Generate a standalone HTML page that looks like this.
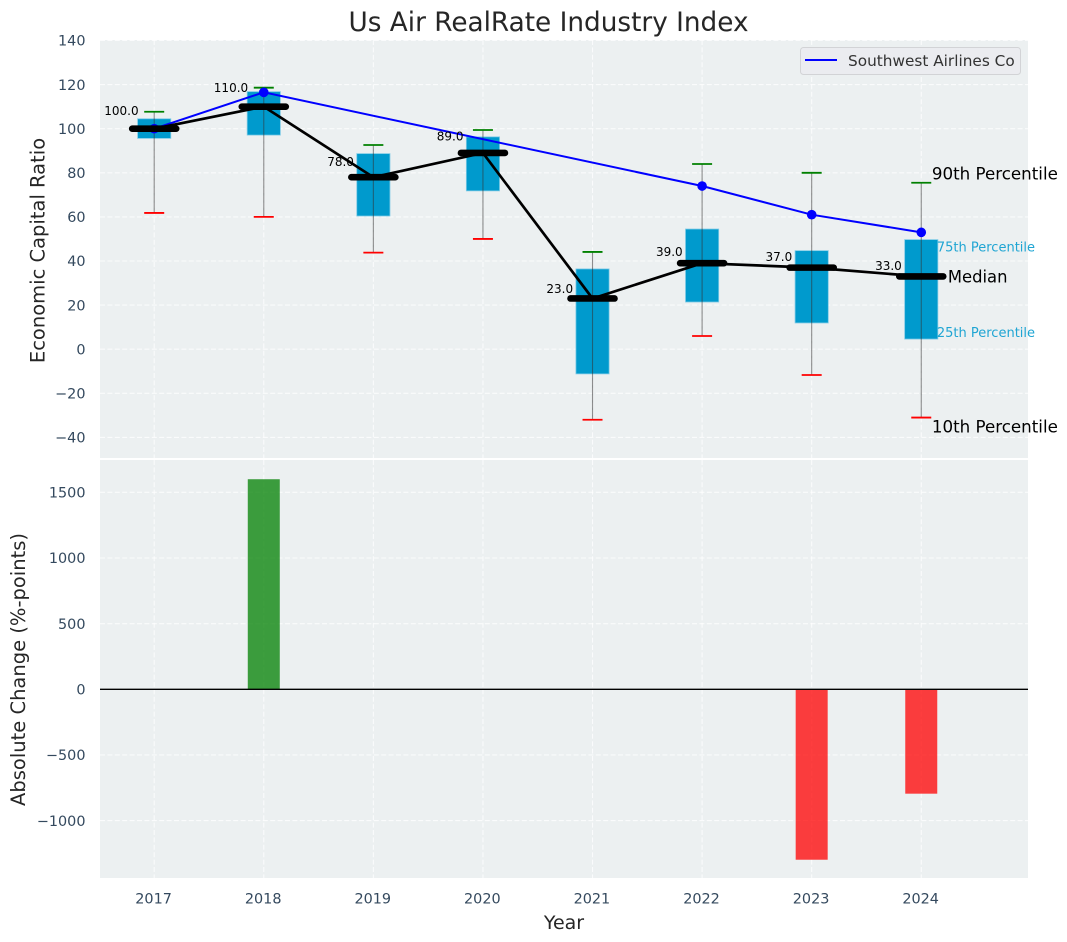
<!DOCTYPE html>
<html lang="en">
<head>
<meta charset="utf-8">
<title>Us Air RealRate Industry Index</title>
<style>
html,body{margin:0;padding:0;background:#fff;width:1067px;height:942px;overflow:hidden}
svg{display:block}
text{font-family:"DejaVu Sans","Liberation Sans",sans-serif}
</style>
</head>
<body>
<svg id="chart" xmlns="http://www.w3.org/2000/svg" width="1067" height="942" viewBox="0 0 1067 942">
  <text x="548.5" y="31" font-size="26.3" text-anchor="middle" fill="#262626">Us Air RealRate Industry Index</text>
  <rect x="100" y="40" width="928" height="418" fill="#ECF0F1"/>
  <rect x="100" y="460" width="928" height="418" fill="#ECF0F1"/>
  <g id="top-grid"></g>
  <g id="bottom-grid"></g>
  <g id="marks"></g>
  <g id="labels"></g>
  <text transform="translate(44.5,250.5) rotate(-90)" font-size="19.5" text-anchor="middle" fill="#262626">Economic Capital Ratio</text>
  <text transform="translate(25,669.5) rotate(-90)" font-size="19.5" text-anchor="middle" fill="#262626">Absolute Change (%-points)</text>
  <text x="564" y="929" font-size="19" text-anchor="middle" fill="#262626">Year</text>
  <g>
    <rect x="800.5" y="47.5" width="220" height="27" rx="3" fill="#EBECF0" stroke="#D2D3D6" stroke-width="1"/>
    <line x1="805" y1="60" x2="837" y2="60" stroke="#0000FF" stroke-width="2"/>
    <text x="848" y="66" font-size="15.3" fill="#333333">Southwest Airlines Co</text>
  </g>
</svg>
<script>
const years = [2017, 2018, 2019, 2020, 2021, 2022, 2023, 2024];
const p10 = [61.8, 60, 43.8, 50, -32, 6, -11.7, -31];
const p25 = [95.6, 97.1, 60.4, 71.8, -11.2, 21.4, 11.9, 4.6];
const medians = [100, 110, 78, 89, 23, 39, 37, 33];
const p75 = [104.5, 116.8, 88.7, 96.3, 36.4, 54.5, 44.7, 49.7];
const p90 = [107.7, 118.6, 92.6, 99.4, 44.1, 84, 80, 75.5];
const southwest = [100, 116.5, null, null, null, 74, 61, 53];
const changes = [null, 1600, null, null, null, null, -1298, -795];
const topTicks = [140, 120, 100, 80, 60, 40, 20, 0, -20, -40];
const bottomTicks = [1500, 1000, 500, 0, -500, -1000];

const NS = 'http://www.w3.org/2000/svg';
function x(v) { return 154.2 + (v - 2017) * 109.58; }
function yTop(v) { return 349.2 - v * 2.205; }
function yBottom(v) { return 689.3 - v * 0.1313; }
function mk(parent, tag, attrs) {
  const el = document.createElementNS(NS, tag);
  for (const k in attrs) el.setAttribute(k, attrs[k]);
  parent.appendChild(el);
  return el;
}
function fmt(v) { return String(v).replace('-', '\u2212'); }

const topGrid = document.getElementById('top-grid');
const bottomGrid = document.getElementById('bottom-grid');
const marks = document.getElementById('marks');
const labels = document.getElementById('labels');
const gridStyle = { stroke: '#FFFFFF', 'stroke-width': 1.1, 'stroke-dasharray': '5 2.4', 'stroke-opacity': 0.75 };

topTicks.forEach(function (t) {
  const g = mk(topGrid, 'line', Object.assign({ x1: 100, x2: 1028, y1: yTop(t), y2: yTop(t) }, gridStyle));
  
  
  const l = mk(labels, 'text', { x: 85.5, y: yTop(t) + 5.2, 'font-size': 14.4, 'text-anchor': 'end', fill: '#34495E' });
  
  
  l.textContent = fmt(t);
});
bottomTicks.forEach(function (t) {
  const g = mk(bottomGrid, 'line', Object.assign({ x1: 100, x2: 1028, y1: yBottom(t), y2: yBottom(t) }, gridStyle));
  
  
  const l = mk(labels, 'text', { x: 85.5, y: yBottom(t) + 5.2, 'font-size': 14.4, 'text-anchor': 'end', fill: '#34495E' });
  
  
  l.textContent = fmt(t);
});
years.forEach(function (yr) {
  const a = mk(topGrid, 'line', Object.assign({ x1: x(yr), x2: x(yr), y1: 40, y2: 458 }, gridStyle));
  
  
  const b = mk(bottomGrid, 'line', Object.assign({ x1: x(yr), x2: x(yr), y1: 460, y2: 878 }, gridStyle));
  
  
  const l = mk(labels, 'text', { x: x(yr) - 0.6, y: 903.5, 'font-size': 14.4, 'text-anchor': 'middle', fill: '#34495E' });
  
  
  l.textContent = String(yr);
});

// Change bars
changes.forEach(function (c, i) {
  if (c === null) return;
  const cx = x(years[i]);
  const y0 = yBottom(0), y1 = yBottom(c);
  const r = mk(marks, 'rect', {
    x: cx - 16, width: 32, y: Math.min(y0, y1), height: Math.abs(y1 - y0),
    fill: c >= 0 ? '#008000' : '#FF0000', 'fill-opacity': 0.75
  });
  
  
});
const zero = mk(marks, 'line', { x1: 100, x2: 1028, y1: yBottom(0), y2: yBottom(0), stroke: '#000', 'stroke-width': 1.3 });



// Boxes, whiskers, caps
years.forEach(function (yr, i) {
  const cx = x(yr);
  const b = mk(marks, 'rect', {
    x: cx - 16.6, width: 33.2, y: yTop(p75[i]), height: yTop(p25[i]) - yTop(p75[i]),
    fill: '#009ACD', stroke: '#7FCBE6', 'stroke-width': 0.8
  });
  
  
  const w = mk(marks, 'line', { x1: cx, x2: cx, y1: yTop(p90[i]), y2: yTop(p10[i]), stroke: '#333', 'stroke-width': 1.1, 'stroke-opacity': 0.55 });
  
  
  const c1 = mk(marks, 'line', { x1: cx - 10, x2: cx + 10, y1: yTop(p90[i]), y2: yTop(p90[i]), stroke: '#008000', 'stroke-width': 1.8 });
  
  
  const c2 = mk(marks, 'line', { x1: cx - 10, x2: cx + 10, y1: yTop(p10[i]), y2: yTop(p10[i]), stroke: '#FF0000', 'stroke-width': 1.8 });
  
  
});

// Southwest line and points
const swPoints = [];
southwest.forEach(function (v, i) { if (v !== null) swPoints.push(x(years[i]) + ',' + yTop(v)); });
const swLine = mk(marks, 'polyline', { points: swPoints.join(' '), fill: 'none', stroke: '#0000FF', 'stroke-width': 2 });


southwest.forEach(function (v, i) {
  if (v === null) return;
  const d = mk(marks, 'circle', { cx: x(years[i]), cy: yTop(v), r: 4.8, fill: '#0000FF' });
  
  
});

// Median line and bars
const medLine = mk(marks, 'polyline', {
  points: medians.map(function (m, i) { return x(years[i]) + ',' + yTop(m); }).join(' '),
  fill: 'none', stroke: '#000', 'stroke-width': 2.7
});


medians.forEach(function (m, i) {
  const cx = x(years[i]);
  const s = mk(marks, 'line', { x1: cx - 22, x2: cx + 22, y1: yTop(m), y2: yTop(m), stroke: '#000', 'stroke-width': 6.6, 'stroke-linecap': 'round' });
  
  
  const t = mk(marks, 'text', { x: cx - 32.8, y: yTop(m * 1.05) - 2.7, 'font-size': 12, 'text-anchor': 'middle', fill: '#000' });
  
  
  t.textContent = m.toFixed(1);
});

// Percentile annotations beside the last year
const last = years.length - 1;
const xl = x(years[last]);
const a90 = mk(marks, 'text', { x: xl + 10.6, y: yTop(p90[last]) - 3, 'font-size': 16.7, fill: '#000' });


a90.textContent = '90th Percentile';
const a75 = mk(marks, 'text', { x: xl + 15.6, y: yTop(p75[last]) + 12, 'font-size': 13, fill: '#1FA5D3' });


a75.textContent = '75th Percentile';
const aMed = mk(marks, 'text', { x: xl + 26.6, y: yTop(medians[last]) + 6, 'font-size': 16.4, fill: '#000' });


aMed.textContent = 'Median';
const a25 = mk(marks, 'text', { x: xl + 15.6, y: yTop(p25[last]) - 2, 'font-size': 13, fill: '#1FA5D3' });


a25.textContent = '25th Percentile';
const a10 = mk(marks, 'text', { x: xl + 10.6, y: yTop(p10[last]) + 15, 'font-size': 16.7, fill: '#000' });


a10.textContent = '10th Percentile';
</script>
</body>
</html>
